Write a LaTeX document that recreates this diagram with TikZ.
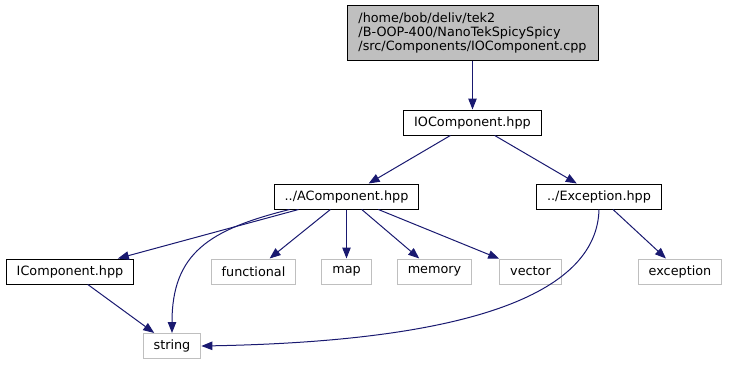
\documentclass[tikz,border=0pt]{standalone}
\usepackage{fontspec}
\setmainfont{DejaVu Sans}
\usepackage{tikz}
\usepackage{xcolor}
\usetikzlibrary{positioning,arrows.meta}
\definecolor{edgeblue}{HTML}{191970}
\definecolor{sysgray}{HTML}{BFBFBF}
\tikzset{
    header/.style={
        rectangle, draw=black, line width=1pt,
        minimum height=25pt, inner xsep=10.5pt, inner ysep=0pt,
        font=\fontsize{12.8}{14}\selectfont, fill=white
    },
    sysheader/.style={
        header, draw=sysgray
    },
    srcfile/.style={
        header, fill=sysgray, align=left,
        minimum width=251pt, minimum height=55pt
    },
    dep/.style={
        draw=edgeblue, line width=1pt,
        -{Triangle[length=11pt,width=8.5pt]}
    }
}
\begin{document}
\begin{tikzpicture}[x=1pt, y=-1pt, on grid]
    \useasboundingbox (0,0) rectangle (729,365);

        % Source file
        \node[srcfile] (cpp) at (472.5,32.5)
            {/home/bob/deliv/tek2\\/B-OOP-400/NanoTekSpicySpicy\\/src/Components/IOComponent.cpp};

        % Headers
        \node[header, below=90pt of cpp] (io) {IOComponent.hpp};
        \node[header, below=74pt of io, xshift=-126pt] (acomp) {../AComponent.hpp};
        \node[header, below=74pt of io, xshift=126.5pt] (exc) {../Exception.hpp};
        \node[header, below=75pt of acomp, xshift=-276.5pt] (icomp) {IComponent.hpp};

        % Standard library
        \node[sysheader, below=75pt of acomp] (map) {map};
        \node[sysheader, left=93pt of map] (func) {functional};
        \node[sysheader, right=88pt of map] (mem) {memory};
        \node[sysheader, right=96pt of mem] (vec) {vector};
        \node[sysheader, below=75pt of exc, xshift=81pt] (except) {exception};
        \node[sysheader, below=74.5pt of icomp, xshift=102pt] (str) {string};

        % Includes
        \draw[dep] (cpp) -- (io);
        \draw[dep] (io) -- (acomp);
        \draw[dep] (io) -- (exc);

        \draw[dep] (acomp) -- (icomp);
        \draw[dep] ([xshift=-57pt]acomp.south) .. controls +(-80,20) and +(0,-80) .. (str.north);
        \draw[dep] (acomp) -- (func);
        \draw[dep] (acomp) -- (map);
        \draw[dep] (acomp) -- (mem);
        \draw[dep] (acomp) -- (vec);

        \draw[dep] (exc.south) .. controls +(-2,80) and +(280,-5) .. (str.east);
        \draw[dep] (exc) -- (except);

        \draw[dep] (icomp) -- (str);

\end{tikzpicture}
\end{document}
